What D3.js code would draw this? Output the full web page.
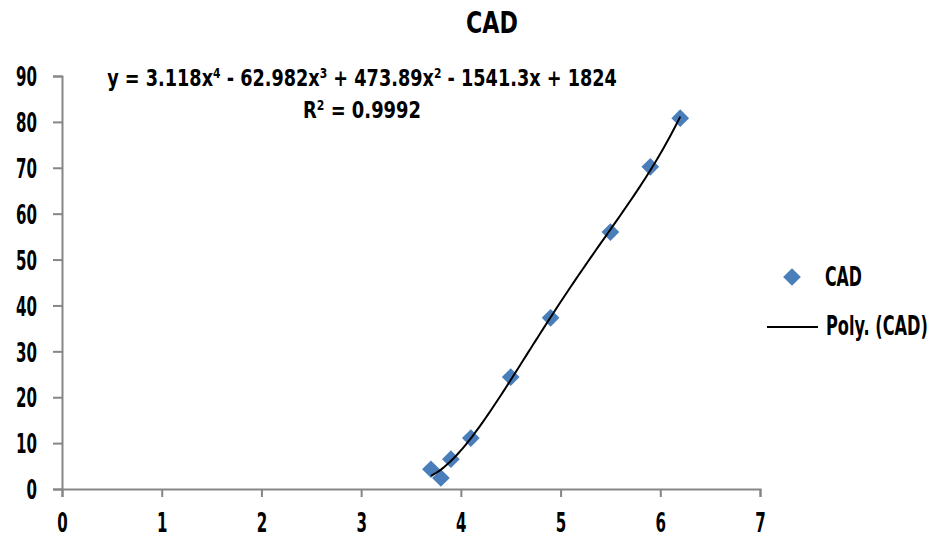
<!DOCTYPE html>
<html>
<head>
<meta charset="utf-8">
<script src="https://cdn.jsdelivr.net/npm/d3@7"></script>
<style>
  body { margin: 0; background: #fff; }
  svg text { font-family: "DejaVu Sans", sans-serif; fill: #000; }
</style>
</head>
<body>
<svg id="chart" width="933" height="540"></svg>
<script>
// Observations
const xValues = [3.7, 3.8, 3.9, 4.1, 4.5, 4.9, 5.5, 5.9, 6.2];
const yValues = [4.3, 2.4, 6.5, 11.1, 24.4, 37.3, 56.0, 70.2, 80.8];
// 4th order trend coefficients, highest power first
const polyCoefs = [3.118, -62.982, 473.89, -1541.3, 1824];
const xTicks = [0, 1, 2, 3, 4, 5, 6, 7];
const yTicks = [0, 10, 20, 30, 40, 50, 60, 70, 80, 90];
const seriesName = "CAD";

const svg = d3.select("#chart");
const x = d3.scaleLinear().domain([0, 7]).range([62, 760]);
const y = d3.scaleLinear().domain([0, 90]).range([489, 76]);
const axisColor = "#868686";
const markColor = "#4a7ebb";

// Condense a text horizontally to a given width, keeping its anchor point
const digitW = 10.5;
function squeeze(sel, w) {
  const node = sel.node();
  const s = w / node.getComputedTextLength();
  const x0 = +(sel.attr("x") || 0);
  sel.attr("x", x0 / s).attr("transform", `scale(${s},1)`);
}

// Title
svg.append("text").attr("x", 492).attr("y", 33).attr("text-anchor", "middle")
  .attr("font-size", 30).attr("font-weight", "bold").text(seriesName)
  .call(squeeze, 52);

// Axes
const xAxis = svg.append("g").attr("transform", `translate(0,${y(0)})`)
  .call(d3.axisBottom(x).tickValues(xTicks).tickSize(8).tickPadding(16).tickFormat(d3.format("d")));
const yAxis = svg.append("g").attr("transform", `translate(${x(0)},0)`)
  .call(d3.axisLeft(y).tickValues(yTicks).tickSize(9).tickPadding(16).tickFormat(d3.format("d")));
[xAxis, yAxis].forEach(g => {
  g.attr("font-family", null).attr("font-size", null);
  g.select(".domain").attr("stroke", axisColor).attr("stroke-width", 2);
  g.selectAll(".tick line").attr("stroke", axisColor).attr("stroke-width", 2);
  g.selectAll(".tick text").attr("font-size", 27).attr("font-weight", "bold").attr("fill", "#000");
});
yAxis.selectAll(".tick text").attr("dy", "0.36em");
[xAxis, yAxis].forEach(g => g.selectAll(".tick text")
  .each(function (d) { squeeze(d3.select(this), String(d).length * digitW); }));

// Trend curve from the fitted polynomial
const poly = t => polyCoefs.reduce((acc, c) => acc * t + c, 0);
const x0 = d3.min(xValues), x1 = d3.max(xValues);
const curvePts = d3.range(0, 101).map(i => {
  const t = x0 + (x1 - x0) * i / 100;
  return [t, poly(t)];
});

// Markers
const diamond = d3.symbol().type(d3.symbolDiamond2).size(200);
svg.append("g").selectAll("path").data(xValues.map((v, i) => [v, yValues[i]])).join("path")
  .attr("d", diamond)
  .attr("transform", d => `translate(${x(d[0])},${y(d[1])})`)
  .attr("fill", markColor);

svg.append("path").datum(curvePts)
  .attr("d", d3.line().x(d => x(d[0])).y(d => y(d[1])))
  .attr("fill", "none").attr("stroke", "#000").attr("stroke-width", 2);

// Equation labels
svg.append("text").attr("x", 362).attr("y", 86).attr("text-anchor", "middle")
  .attr("font-size", 23).attr("font-weight", "bold")
  .html('y = 3.118x<tspan dy="-8" font-size="14">4</tspan><tspan dy="8"> - 62.982x</tspan><tspan dy="-8" font-size="14">3</tspan><tspan dy="8"> + 473.89x</tspan><tspan dy="-8" font-size="14">2</tspan><tspan dy="8"> - 1541.3x + 1824</tspan>')
  .call(squeeze, 510);
svg.append("text").attr("x", 362).attr("y", 118).attr("text-anchor", "middle")
  .attr("font-size", 23).attr("font-weight", "bold")
  .html('R<tspan dy="-8" font-size="14">2</tspan><tspan dy="8"> = 0.9992</tspan>')
  .call(squeeze, 118);

// Legend
const legend = svg.append("g");
legend.append("path").attr("d", diamond).attr("transform", "translate(792,277)").attr("fill", markColor);
legend.append("text").attr("x", 825).attr("y", 286).attr("font-size", 26).attr("font-weight", "bold")
  .text(seriesName).call(squeeze, 37);
legend.append("line").attr("x1", 767).attr("x2", 818).attr("y1", 327).attr("y2", 327)
  .attr("stroke", "#000").attr("stroke-width", 2);
legend.append("text").attr("x", 826).attr("y", 335).attr("font-size", 26).attr("font-weight", "bold")
  .text(`Poly. (${seriesName})`).call(squeeze, 102);
</script>
</body>
</html>
